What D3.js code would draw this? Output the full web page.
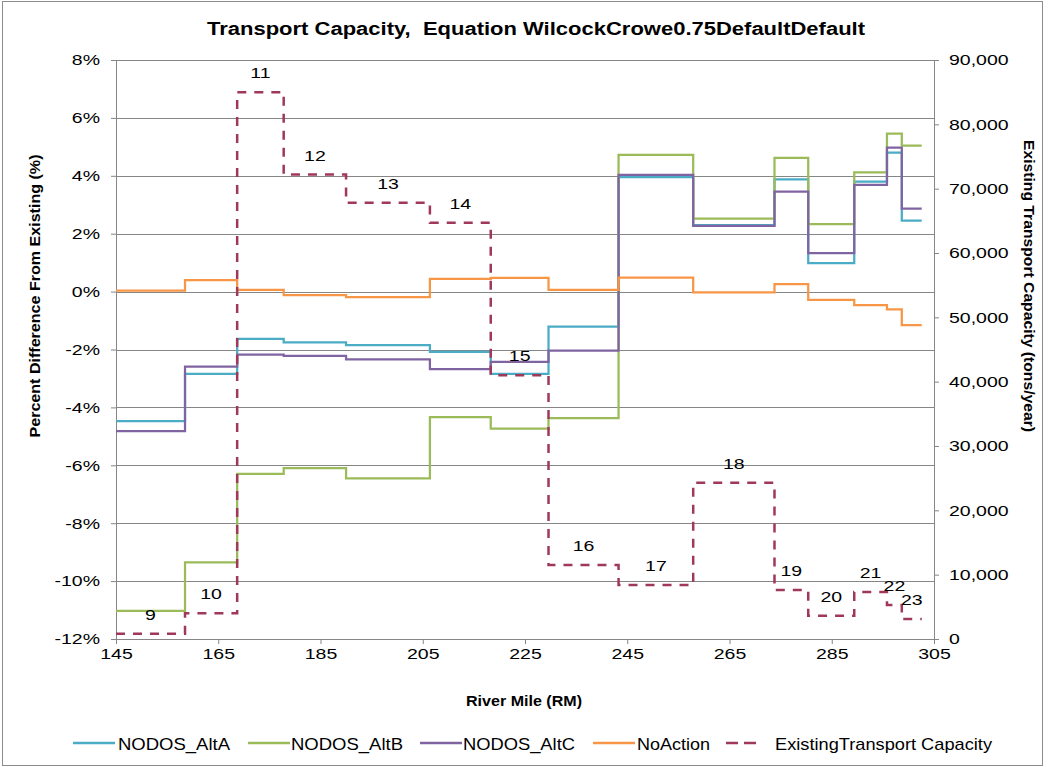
<!DOCTYPE html>
<html>
<head>
<meta charset="utf-8">
<script src="https://cdn.jsdelivr.net/npm/d3@7"></script>
<style>
  html, body { margin: 0; padding: 0; background: #fff; }
  svg { display: block; font-family: "Liberation Sans", Arial, sans-serif; }
</style>
</head>
<body>
<svg id="chart" width="1050" height="767"></svg>
<script>
// ---------- DATA ----------
const title = "Transport Capacity,  Equation WilcockCrowe0.75DefaultDefault";
// Reach boundaries (River Mile)
const boundaries = [145, 158.5, 168.7, 177.8, 190.0, 206.4, 218.3, 229.6, 243.3, 257.9, 273.8, 280.4, 289.4, 295.8, 298.7, 302.6];
const reachLabels = ["9","10","11","12","13","14","15","16","17","18","19","20","21","22","23"];
// Percent difference from existing (%)
const altA     = [-4.47, -2.84, -1.63, -1.75, -1.85, -2.08, -2.84, -1.21, 3.95, 2.30, 3.88, 0.98, 3.80, 4.80, 2.45];
const altB     = [-11.03, -9.35, -6.30, -6.10, -6.45, -4.34, -4.73, -4.37, 4.72, 2.52, 4.62, 2.33, 4.12, 5.46, 5.04];
const altC     = [-4.82, -2.59, -2.18, -2.22, -2.34, -2.68, -2.43, -2.04, 4.03, 2.27, 3.45, 1.33, 3.69, 4.97, 2.87];
const noAction = [0.03, 0.40, 0.06, -0.12, -0.19, 0.44, 0.47, 0.06, 0.48, -0.03, 0.26, -0.29, -0.47, -0.61, -1.16];
// Existing transport capacity (tons/year)
const existing = [800, 4000, 85000, 72200, 67800, 64700, 41000, 11500, 8400, 24300, 7600, 3600, 7300, 5300, 3100];

const xTicks = [145, 165, 185, 205, 225, 245, 265, 285, 305];
const yLeftTicks = [-12, -10, -8, -6, -4, -2, 0, 2, 4, 6, 8];
const yRightTicks = [0, 10000, 20000, 30000, 40000, 50000, 60000, 70000, 80000, 90000];

const seriesNames = ["NODOS_AltA", "NODOS_AltB", "NODOS_AltC", "NoAction"];
const seriesValues = [altA, altB, altC, noAction];
const seriesColors = ["#4BACC6", "#9BBB59", "#8064A2", "#F79646"];
const existingName = "ExistingTransport Capacity";
const existingColor = "#A0385A";

// ---------- LAYOUT ----------
const svg = d3.select("#chart");
const plot = { left: 116, right: 934, top: 60, bottom: 639 };
const SX = 1.3; // horizontal text stretch

const x = d3.scaleLinear().domain([145, 305]).range([plot.left, plot.right]);
const yL = d3.scaleLinear().domain([-12, 8]).range([plot.bottom, plot.top]);
const yR = d3.scaleLinear().domain([0, 90000]).range([plot.bottom, plot.top]);

// outer frame
svg.append("rect").attr("x", 2.5).attr("y", 1.5).attr("width", 1040).attr("height", 764)
  .attr("fill", "none").attr("stroke", "#8c8c8c").attr("stroke-width", 1);

// gridlines
svg.append("g").selectAll("line").data(yLeftTicks).join("line")
  .attr("x1", plot.left).attr("x2", plot.right)
  .attr("y1", d => Math.round(yL(d)) + 0.5).attr("y2", d => Math.round(yL(d)) + 0.5)
  .attr("stroke", "#868686").attr("stroke-width", 1);

// axes
function styleAxis(g) {
  g.selectAll("path").attr("stroke", "#868686");
  g.selectAll("line").attr("stroke", "#868686");
  g.selectAll("text").attr("fill", "#000").style("font-size", "15px");
}
const gx = svg.append("g").attr("transform", `translate(0,${plot.bottom})`)
  .call(d3.axisBottom(x).tickValues(xTicks).tickFormat(d3.format("d")).tickSize(5).tickSizeOuter(0).tickPadding(4));
styleAxis(gx);
gx.selectAll("text").attr("transform", `scale(${SX},1)`).attr("x", 0);

const gl = svg.append("g").attr("transform", `translate(${plot.left},0)`)
  .call(d3.axisLeft(yL).tickValues(yLeftTicks).tickFormat(d => d + "%").tickSize(5).tickSizeOuter(0));
styleAxis(gl);
gl.selectAll("text").attr("x", -16 / SX).attr("transform", `scale(${SX},1)`);

const gr = svg.append("g").attr("transform", `translate(${plot.right},0)`)
  .call(d3.axisRight(yR).tickValues(yRightTicks).tickFormat(d3.format(",")).tickSize(5).tickSizeOuter(0));
styleAxis(gr);
gr.selectAll("text").attr("x", 15 / SX).attr("transform", `scale(${SX},1)`);

// step line generator
function stepPoints(vals) {
  const pts = vals.map((v, i) => [boundaries[i], v]);
  pts.push([boundaries[vals.length], vals[vals.length - 1]]);
  return pts;
}
const lineL = d3.line().x(d => x(d[0])).y(d => yL(d[1])).curve(d3.curveStepAfter);
const lineR = d3.line().x(d => x(d[0])).y(d => yR(d[1])).curve(d3.curveStepAfter);

seriesValues.forEach((vals, i) => {
  svg.append("path").attr("d", lineL(stepPoints(vals)))
    .attr("fill", "none").attr("stroke", seriesColors[i]).attr("stroke-width", 2.25);
});
svg.append("path").attr("d", lineR(stepPoints(existing)))
  .attr("fill", "none").attr("stroke", existingColor).attr("stroke-width", 2.5)
  .attr("stroke-dasharray", "9,8");

// reach labels
svg.append("g").selectAll("text").data(existing).join("text")
  .attr("transform", (d, i) => `translate(${x((boundaries[i] + boundaries[i + 1]) / 2)},${yR(d) - 14}) scale(${SX},1)`)
  .attr("text-anchor", "middle")
  .style("font-size", "15px")
  .text((d, i) => reachLabels[i]);

// title
svg.append("text").attr("x", 536).attr("y", 35).attr("text-anchor", "middle")
  .attr("textLength", 658).attr("lengthAdjust", "spacingAndGlyphs")
  .style("white-space", "pre")
  .style("font-size", "18px").style("font-weight", "bold").text(title);

// axis titles
svg.append("text").attr("x", 524).attr("y", 706).attr("text-anchor", "middle")
  .attr("textLength", 116).attr("lengthAdjust", "spacingAndGlyphs")
  .style("font-size", "15px").style("font-weight", "bold").text("River Mile (RM)");
svg.append("text").attr("transform", "translate(40,296) rotate(-90)").attr("text-anchor", "middle")
  .attr("textLength", 283).attr("lengthAdjust", "spacingAndGlyphs")
  .style("font-size", "15px").style("font-weight", "bold").text("Percent Difference From Existing (%)");
svg.append("text").attr("transform", "translate(1024,286) rotate(90)").attr("text-anchor", "middle")
  .attr("textLength", 292).attr("lengthAdjust", "spacingAndGlyphs")
  .style("font-size", "15px").style("font-weight", "bold").text("Existing Transport Capacity (tons/year)");

// legend
const legendItems = [
  { name: seriesNames[0], color: seriesColors[0], lx: 73, tx: 118, tw: 112, dash: null },
  { name: seriesNames[1], color: seriesColors[1], lx: 248, tx: 291, tw: 112, dash: null },
  { name: seriesNames[2], color: seriesColors[2], lx: 420, tx: 463, tw: 112, dash: null },
  { name: seriesNames[3], color: seriesColors[3], lx: 593, tx: 637, tw: 73, dash: null },
  { name: existingName, color: existingColor, lx: 726, tx: 775, tw: 217, dash: "12,6" }
];
const lg = svg.append("g");
legendItems.forEach(it => {
  lg.append("line").attr("x1", it.lx).attr("x2", it.lx + (it.dash ? 34 : 42))
    .attr("y1", 743).attr("y2", 743).attr("stroke", it.color).attr("stroke-width", 2.5)
    .attr("stroke-dasharray", it.dash);
  lg.append("text").attr("x", it.tx).attr("y", 750)
    .attr("textLength", it.tw).attr("lengthAdjust", "spacingAndGlyphs")
    .style("font-size", "17px").text(it.name);
});
</script>
</body>
</html>
